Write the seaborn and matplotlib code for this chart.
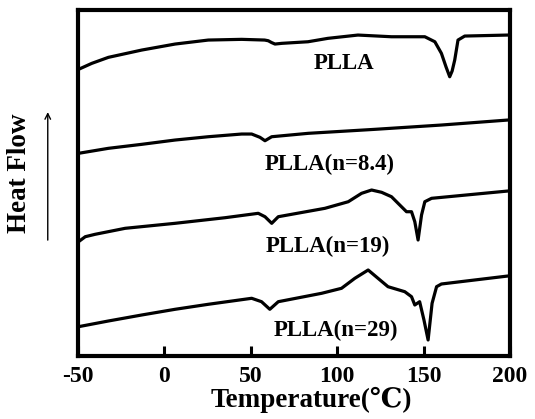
import numpy as np
import pandas as pd
import matplotlib
matplotlib.use("Agg")
import matplotlib.pyplot as plt
import seaborn as sns

# ---- data (heat flow in arbitrary units, curves offset) ----
t_plla = [-49.7, -42.0, -32.4, -13.1, 6.2, 25.4, 44.7, 58.0, 60.1, 62.0, 64.0, 67.9, 83.1, 94.6,
          112.0, 131.4, 150.7, 156.5, 160.3, 163.0, 165.1, 166.5, 168.0, 169.9, 173.8, 198.8]
hf_plla = [284.7, 290.7, 296.7, 304.0, 310.0, 314.0, 314.7, 314.0, 313.3, 311.5, 310.0, 310.7,
           312.3, 315.7, 319.0, 317.3, 317.3, 312.3, 300.7, 287.0, 277.3, 283.0, 294.0, 314.0,
           318.0, 319.0]

t_n84 = [-49.7, -32.4, -13.1, 6.2, 25.4, 44.7, 50.5, 55.3, 58.2, 62.1, 83.2, 121.8, 160.3, 198.8]
hf_n84 = [200.7, 205.7, 209.7, 214.0, 217.3, 220.0, 220.0, 216.7, 213.3, 217.3, 220.7, 224.7,
          229.0, 234.0]

t_n19 = [-49.7, -45.8, -40.1, -22.7, 6.2, 35.1, 54.3, 58.2, 62.1, 65.9, 73.6, 92.9, 106.4,
         114.1, 119.9, 125.7, 131.4, 136.2, 140.1, 143.0, 144.9, 146.8, 148.8, 150.7, 154.6, 198.8]
hf_n19 = [112.3, 117.3, 119.7, 125.7, 130.7, 136.3, 140.7, 137.3, 130.7, 137.3, 139.7, 145.7,
          152.3, 160.7, 164.0, 161.7, 157.3, 149.0, 142.3, 142.3, 132.3, 114.0, 139.0, 152.3,
          155.7, 163.0]

t_n29 = [-49.7, -32.4, -13.1, 6.2, 25.4, 50.5, 56.2, 61.0, 65.9, 91.0, 102.5, 110.2, 117.9,
         123.6, 129.4, 139.1, 143.0, 144.9, 147.7, 150.2, 152.6, 154.9, 157.5, 160.3, 198.8]
hf_n29 = [27.3, 33.0, 39.0, 44.7, 49.7, 55.7, 52.3, 44.7, 52.3, 60.7, 65.7, 75.7, 84.0,
          75.7, 67.3, 62.3, 57.3, 49.0, 52.3, 34.0, 14.0, 50.7, 67.3, 70.0, 78.0]

labels = ["PLLA", "PLLA(n=8.4)", "PLLA(n=19)", "PLLA(n=29)"]
label_t = [104.2, 95.8, 94.6, 99.2]
label_hf = [290.4, 190.0, 108.0, 24.0]

x_ticks = [-50, 0, 50, 100, 150, 200]
x_label = "Temperature(℃)"
y_label = "Heat Flow"

# ---- build long table ----
frames = []
for name, t, h in zip(labels, [t_plla, t_n84, t_n19, t_n29], [hf_plla, hf_n84, hf_n19, hf_n29]):
    frames.append(pd.DataFrame({"T": t, "HF": h, "sample": name}))
df = pd.concat(frames, ignore_index=True)

sns.set_theme(style="ticks")
serif = ["Liberation Serif", "DejaVu Serif"]
plt.rcParams["font.family"] = serif
plt.rcParams["font.weight"] = "bold"

fig = plt.figure(figsize=(5.35, 4.19), dpi=100)
ax = fig.add_axes([0.1458, 0.1504, 0.8075, 0.8256])

sns.lineplot(data=df, x="T", y="HF", hue="sample", units="sample", estimator=None,
             palette=["black"] * 4, linewidth=2.3, legend=False, sort=False, ax=ax)
for ln in ax.get_lines():
    ln.set_solid_joinstyle("round")
    ln.set_solid_capstyle("round")

for lab, tx, ty in zip(labels, label_t, label_hf):
    ax.text(tx, ty, lab, ha="center", va="center", fontsize=16.5, fontweight="bold",
            family=serif, color="black")

ax.set_xlim(-50, 200)
ax.set_ylim(-2, 344)
ax.set_xticks(x_ticks)
ax.set_xticklabels([str(v) for v in x_ticks])
ax.set_yticks([])
ax.tick_params(axis="x", direction="in", length=7, width=2.2, labelsize=17, pad=7,
               colors="black")
for lab in ax.get_xticklabels():
    lab.set_fontweight("bold")
for sp in ax.spines.values():
    sp.set_visible(True)
    sp.set_linewidth(3)
    sp.set_color("black")

ax.set_xlabel(x_label, fontsize=19.5, fontweight="bold", family=serif, color="black")
ax.xaxis.set_label_coords(0.539, -0.088)
ax.set_ylabel(y_label, fontsize=19.5, fontweight="bold", family=serif, color="black")
ax.yaxis.set_label_coords(-0.106, 0.529)

ax.annotate("", xy=(-0.070, 0.705), xytext=(-0.070, 0.335), xycoords="axes fraction",
            textcoords="axes fraction", annotation_clip=False,
            arrowprops=dict(arrowstyle="->", lw=1.0, color="black",
                            shrinkA=0, shrinkB=0, mutation_scale=10))

fig.savefig("out.png", dpi=100)
